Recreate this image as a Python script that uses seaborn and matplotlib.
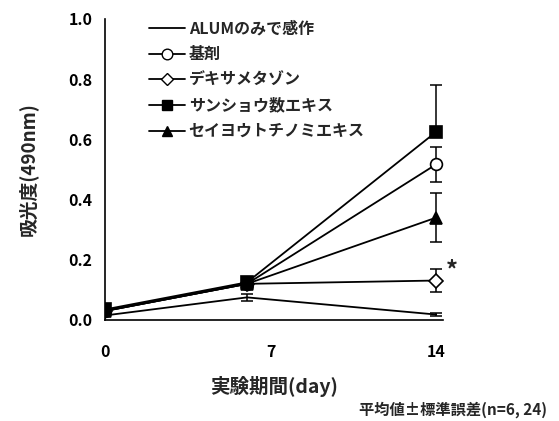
import numpy as np
import pandas as pd
import matplotlib
matplotlib.use("Agg")
import matplotlib.pyplot as plt
import seaborn as sns
from matplotlib.lines import Line2D

sns.set_theme(style="white")
plt.rcParams['font.family'] = ['Noto Sans CJK JP', 'DejaVu Sans']

days = [0, 6, 14]
series_names = ["ALUMのみで感作", "基剤", "デキサメタゾン", "サンショウ数エキス", "セイヨウトチノミエキス"]
alum = [0.015, 0.075, 0.018]
kizai = [0.03, 0.12, 0.517]
dexa = [0.03, 0.12, 0.131]
sansho = [0.035, 0.125, 0.625]
seiyo = [0.03, 0.12, 0.34]
# lower / upper error lengths
alum_err = [[0.0, 0.012, 0.006], [0.0, 0.012, 0.006]]
kizai_err = [[0.0, 0.0, 0.058], [0.0, 0.0, 0.058]]
dexa_err = [[0.0, 0.0, 0.037], [0.0, 0.0, 0.037]]
sansho_err = [[0.0, 0.0, 0.0], [0.0, 0.0, 0.155]]
seiyo_err = [[0.0, 0.0, 0.081], [0.0, 0.0, 0.081]]
xticks = [0, 7, 14]
yticks = [0.0, 0.2, 0.4, 0.6, 0.8, 1.0]

values = [alum, kizai, dexa, sansho, seiyo]
errors = [alum_err, kizai_err, dexa_err, sansho_err, seiyo_err]
styles = [
    dict(marker=None, ms=0, mfc="black"),
    dict(marker="o", ms=8.5, mfc="white"),
    dict(marker="D", ms=7, mfc="white"),
    dict(marker="s", ms=8.5, mfc="black"),
    dict(marker="^", ms=8.5, mfc="black"),
]

fig = plt.figure(figsize=(5.59, 4.21), dpi=100)
ax = fig.add_axes([0.188, 0.24, 0.605, 0.715])

for name, v, e, st in zip(series_names, values, errors, styles):
    df = pd.DataFrame({"day": days, "value": v})
    ax.errorbar(days, v, yerr=np.array(e), fmt="none", ecolor="black", elinewidth=1.1,
                capsize=4, capthick=1.1, zorder=2)
    sns.lineplot(data=df, x="day", y="value", ax=ax, color="black", lw=1.3,
                 marker=st["marker"], markersize=st["ms"],
                 markerfacecolor=st["mfc"], markeredgecolor="black",
                 markeredgewidth=1.2, zorder=3)

ax.set_xlim(0, 14.3)
ax.set_ylim(0, 1.0)
ax.set_xticks(xticks)
ax.set_yticks(yticks)
ax.set_yticklabels([f"{t:.1f}" for t in yticks])
ax.tick_params(axis="both", direction="in", length=5, width=1, colors="black",
               labelsize=11.5)
ax.tick_params(axis="x", pad=17)
ax.tick_params(axis="y", pad=9)
for lab in ax.get_xticklabels() + ax.get_yticklabels():
    lab.set_fontweight("bold")
for s in ["top", "right"]:
    ax.spines[s].set_visible(False)
for s in ["left", "bottom"]:
    ax.spines[s].set_color("black")
    ax.spines[s].set_linewidth(1.2)

ax.set_xlabel("実験期間(day)", fontsize=14, fontweight="bold", labelpad=12)
ax.set_ylabel("吸光度(490nm)", fontsize=13.5, fontweight="bold", labelpad=22)

ax.text(14.68, 0.163, "*", fontsize=17, fontweight="bold", ha="center", va="center")

handles = []
for name, st in zip(series_names, styles):
    handles.append(Line2D([0], [0], color="black", lw=1.3, marker=st["marker"],
                          markersize=st["ms"] * 0.9, markerfacecolor=st["mfc"],
                          markeredgecolor="black", label=name))
leg = ax.legend(handles=handles, loc="upper left", bbox_to_anchor=(0.11, 1.015),
                frameon=False, fontsize=11.5, handlelength=2.3, handletextpad=0.2,
                labelspacing=0.6, borderaxespad=0.0)
for t in leg.get_texts():
    t.set_fontweight("bold")

fig.text(0.979, 0.026, "平均値±標準誤差(n=6, 24)", fontsize=11, fontweight="bold",
         ha="right", va="center")

fig.savefig("out.png", dpi=100)
